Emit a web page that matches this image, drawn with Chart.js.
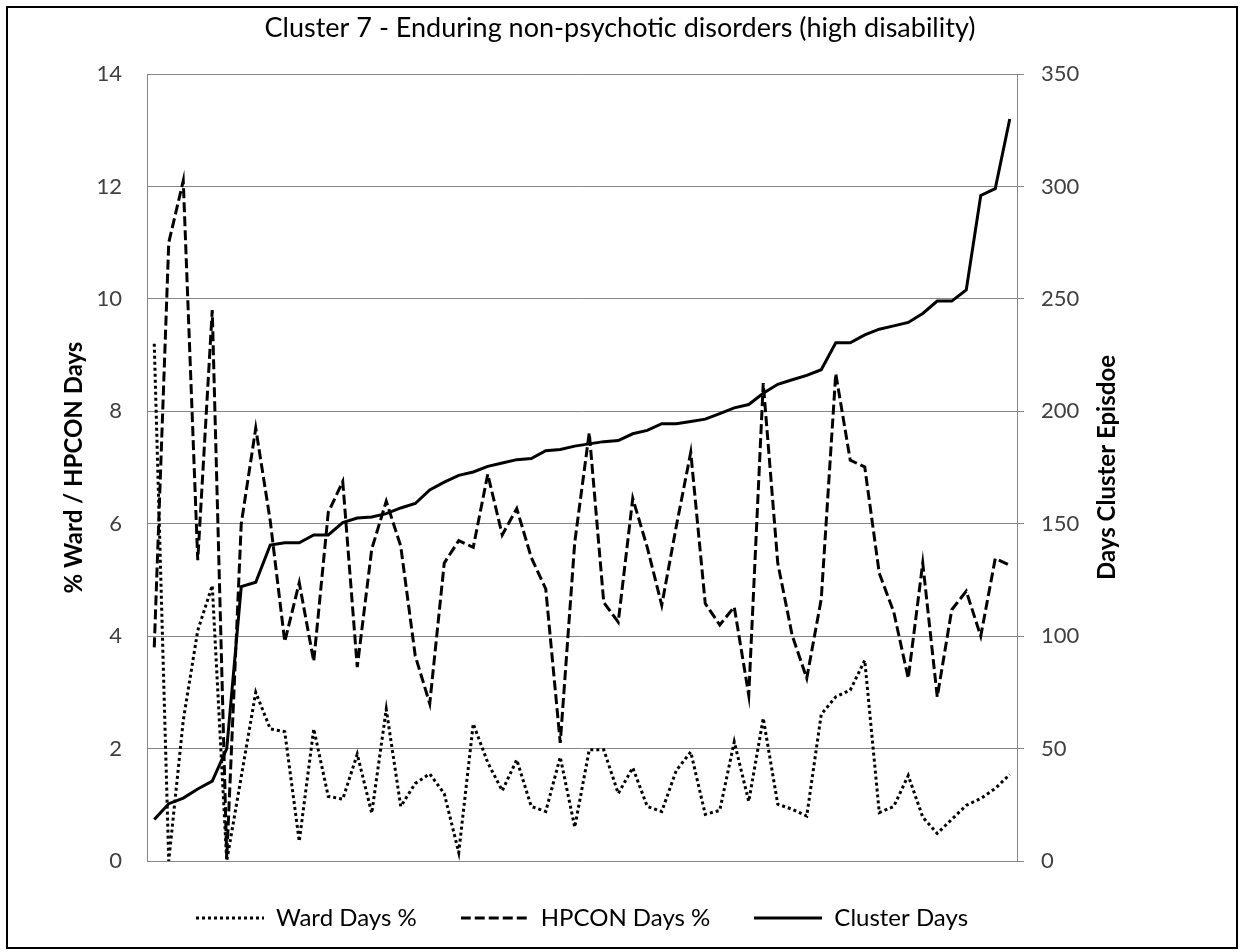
<!DOCTYPE html>
<html lang="en">
<head>
  <meta charset="UTF-8" />
  <title>Cluster 7</title>
  <style>
    html, body { margin: 0; padding: 0; background: #fff; }
    #wrap { width: 1240px; height: 952px; }
  </style>
  <script src="https://cdn.jsdelivr.net/npm/chart.js"></script>
</head>
<body>
  <div id="wrap"><canvas id="chart" width="1240" height="952"></canvas></div>

  <script>
    // categories (one per cluster record, labels are hidden on the chart)
    const categories = [1, 2, 3, 4, 5, 6, 7, 8, 9, 10, 11, 12, 13, 14, 15, 16, 17, 18, 19, 20,
      21, 22, 23, 24, 25, 26, 27, 28, 29, 30, 31, 32, 33, 34, 35, 36, 37, 38, 39, 40,
      41, 42, 43, 44, 45, 46, 47, 48, 49, 50, 51, 52, 53, 54, 55, 56, 57, 58, 59, 60];

    // % ward days (left axis)
    const wardDays = [9.2, 0.0, 2.5, 4.1, 4.9, 0.0, 1.5, 3.0, 2.35, 2.3,
      0.35, 2.35, 1.15, 1.1, 1.9, 0.85, 2.7, 0.97, 1.38, 1.55,
      1.2, 0.15, 2.44, 1.75, 1.25, 1.8, 0.97, 0.88, 1.85, 0.6,
      1.98, 1.98, 1.2, 1.66, 0.97, 0.88, 1.61, 1.94, 0.83, 0.9,
      2.12, 1.06, 2.54, 1.01, 0.92, 0.8, 2.61, 2.92, 3.04, 3.57,
      0.86, 0.97, 1.52, 0.78, 0.49, 0.74, 0.99, 1.11, 1.29, 1.54];

    // % HPCON days (left axis)
    const hpconDays = [3.8, 11.0, 12.1, 5.35, 9.8, 0.05, 6.0, 7.7, 6.05, 3.9,
      4.95, 3.55, 6.2, 6.75, 3.45, 5.55, 6.4, 5.6, 3.65, 2.8,
      5.3, 5.7, 5.58, 6.88, 5.8, 6.27, 5.4, 4.84, 2.1, 5.67,
      7.62, 4.6, 4.25, 6.45, 5.58, 4.55, 5.95, 7.27, 4.58, 4.2,
      4.52, 2.95, 8.5, 5.3, 4.01, 3.25, 4.66, 8.67, 7.13, 7.01,
      5.12, 4.43, 3.25, 5.3, 2.92, 4.47, 4.8, 4.0, 5.38, 5.26];

    // days in cluster episode (right axis)
    const clusterDays = [18.5, 25.5, 28, 32, 35.5, 50, 122, 124, 140.5, 141.5,
      141.5, 145, 145, 150.5, 152.5, 153, 154.5, 157, 159, 165,
      168.5, 171.5, 173, 175.5, 177, 178.5, 179, 182.5, 183, 184.5,
      185.5, 186.5, 187, 190, 191.5, 194.5, 194.5, 195.5, 196.5, 199,
      201.5, 203, 208, 212, 214, 216, 218.5, 230.5, 230.5, 234,
      236.5, 238, 239.5, 243.5, 249, 249, 254, 296, 299, 330];

    const leftTicks = { min: 0, max: 14, step: 2 };
    const rightTicks = { min: 0, max: 350, step: 50 };

    const FONT = "Lato, 'Open Sans', sans-serif";
    const GRID = "#868686";
    const DOTS = [3, 3];
    const DASHES = [10, 4];

    // legend swatch: a short line with the same dash pattern as the series
    function swatch(dash) {
      const c = document.createElement("canvas");
      c.width = 68;
      c.height = 4;
      const g = c.getContext("2d");
      g.strokeStyle = "#000";
      g.lineWidth = 3;
      g.setLineDash(dash);
      g.beginPath();
      g.moveTo(0, 2);
      g.lineTo(68, 2);
      g.stroke();
      return c;
    }

    // outer frame and the secondary axis title (reads bottom to top like Excel)
    const extras = {
      id: "extras",
      afterDraw(chart) {
        const ctx = chart.ctx;
        ctx.save();
        ctx.strokeStyle = "#000";
        ctx.lineWidth = 2;
        ctx.strokeRect(7, 7, 1230, 941);

        const area = chart.chartArea;
        ctx.translate(1107, (area.top + area.bottom) / 2);
        ctx.rotate(-Math.PI / 2);
        ctx.font = "bold 24px " + FONT;
        ctx.fillStyle = "#000";
        ctx.textAlign = "center";
        ctx.textBaseline = "middle";
        ctx.fillText("Days Cluster Episdoe", 0, 0);
        ctx.restore();
      }
    };

    new Chart(document.getElementById("chart"), {
      type: "line",
      data: {
        labels: categories,
        datasets: [
          {
            label: "Ward Days %",
            data: wardDays,
            yAxisID: "y",
            borderColor: "#000",
            backgroundColor: "#000",
            borderWidth: 3,
            borderDash: DOTS,
            pointRadius: 0,
            pointStyle: swatch(DOTS),
            tension: 0,
            fill: false
          },
          {
            label: "HPCON Days %",
            data: hpconDays,
            yAxisID: "y",
            borderColor: "#000",
            backgroundColor: "#000",
            borderWidth: 3,
            borderDash: DASHES,
            pointRadius: 0,
            pointStyle: swatch(DASHES),
            tension: 0,
            fill: false
          },
          {
            label: "Cluster Days",
            data: clusterDays,
            yAxisID: "y1",
            borderColor: "#000",
            backgroundColor: "#000",
            borderWidth: 3,
            pointRadius: 0,
            pointStyle: swatch([]),
            tension: 0,
            fill: false
          }
        ]
      },
      options: {
        responsive: false,
        animation: false,
        devicePixelRatio: 1,
        layout: { padding: { top: 0, left: 0, right: 0, bottom: 12 } },
        plugins: {
          title: {
            display: true,
            text: "Cluster 7 - Enduring non-psychotic disorders (high disability)",
            color: "#000",
            font: { family: FONT, size: 27, weight: "normal" },
            padding: { top: 12, bottom: 29.6 }
          },
          legend: {
            position: "bottom",
            fullSize: false,
            maxHeight: 80,
            labels: {
              usePointStyle: true,
              pointStyleWidth: 68,
              padding: 44,
              color: "#000",
              font: { family: FONT, size: 24 }
            }
          },
          tooltip: { enabled: false }
        },
        scales: {
          x: {
            type: "category",
            offset: true,
            ticks: { display: false },
            grid: { display: false },
            border: { display: true, color: GRID, width: 1 },
            afterFit: (scale) => { scale.height = 1; }
          },
          y: {
            position: "left",
            min: leftTicks.min,
            max: leftTicks.max,
            ticks: {
              stepSize: leftTicks.step,
              padding: 25,
              color: "#404040",
              font: { family: FONT, size: 22 }
            },
            grid: { color: GRID, drawTicks: false },
            border: { display: true, color: GRID },
            title: {
              display: true,
              text: "% Ward / HPCON Days",
              color: "#000",
              font: { family: FONT, size: 24, weight: "bold" },
              padding: { top: 60, bottom: 0 }
            },
            afterFit: (scale) => { scale.width = 147; }
          },
          y1: {
            position: "right",
            min: rightTicks.min,
            max: rightTicks.max,
            ticks: {
              stepSize: rightTicks.step,
              padding: 17,
              color: "#404040",
              font: { family: FONT, size: 22 }
            },
            grid: { drawOnChartArea: false, drawTicks: true, tickLength: 7, color: GRID },
            border: { display: true, color: GRID },
            afterFit: (scale) => { scale.width = 223; }
          }
        }
      },
      plugins: [extras]
    });
  </script>
</body>
</html>
